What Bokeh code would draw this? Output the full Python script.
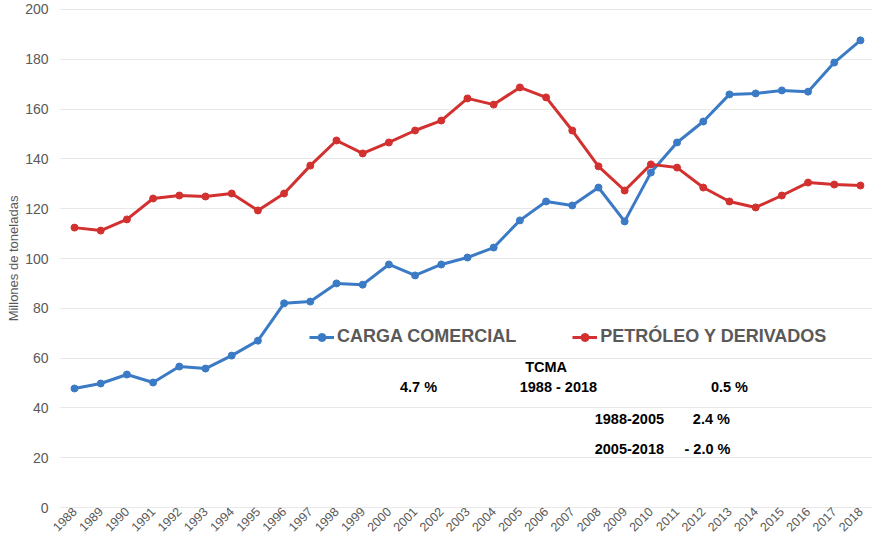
import math
from bokeh.plotting import figure
from bokeh.models import Range1d, FixedTicker, Legend, LegendItem, ColumnDataSource
from bokeh.core.properties import value
from bokeh.embed import file_html
from bokeh.resources import INLINE

years = list(range(1988, 2019))
carga_comercial = [47.8, 49.8, 53.4, 50.2, 56.6, 55.8, 61.0, 67.0, 82.0, 82.7,
                   90.0, 89.5, 97.6, 93.2, 97.6, 100.4, 104.4, 115.3, 122.9, 121.3,
                   128.5, 114.9, 134.5, 146.6, 155.0, 165.9, 166.3, 167.5, 167.0, 178.7,
                   187.6]
petroleo = [112.4, 111.2, 115.7, 124.1, 125.3, 124.9, 126.1, 119.3, 126.1, 137.3,
            147.4, 142.2, 146.6, 151.4, 155.4, 164.3, 161.8, 168.7, 164.7, 151.4,
            137.0, 127.3, 137.8, 136.5, 128.5, 122.9, 120.5, 125.3, 130.5, 129.7,
            129.3]
y_ticks = [0, 20, 40, 60, 80, 100, 120, 140, 160, 180, 200]
series_names = ["CARGA COMERCIAL", "PETRÓLEO Y DERIVADOS"]
tcma_title = "TCMA"
tcma_rows = [
    # (label, x-year, y-value)
    ("4.7 %", 2001.13, 48.5),
    ("1988 - 2018", 2006.47, 48.5),
    ("0.5 %", 2013.0, 48.5),
    ("1988-2005", 2009.18, 35.5),
    ("2.4 %", 2012.31, 35.5),
    ("2005-2018", 2009.18, 23.5),
    ("- 2.0 %", 2012.16, 23.5),
]
tcma_title_pos = (2006.0, 56.6)

BLUE = "#3b7ac4"
RED = "#d2312f"
GRAY = "#595959"

p = figure(width=874, height=542, output_backend="svg", toolbar_location=None,
           x_range=Range1d(1987.427, 2018.46), y_range=Range1d(-0.8, 200.8),
           min_border_left=59, min_border_right=2, min_border_top=7, min_border_bottom=33)
p.outline_line_color = None
p.background_fill_color = "white"
p.border_fill_color = "white"

p.xgrid.grid_line_color = None
p.ygrid.grid_line_color = "#e8e8e8"
p.ygrid.grid_line_width = 1

p.yaxis.ticker = FixedTicker(ticks=y_ticks)
p.xaxis.ticker = FixedTicker(ticks=years)
for ax in (p.xaxis, p.yaxis):
    ax.axis_line_color = None
    ax.major_tick_line_color = None
    ax.minor_tick_line_color = None
    ax.major_tick_in = 0
    ax.major_tick_out = 0
    ax.major_label_text_color = GRAY
    ax.major_label_text_font = "Liberation Sans"
p.yaxis.major_label_text_font_size = "14px"
p.yaxis.major_label_standoff = 11
p.xaxis.major_label_text_font_size = "12.5px"
p.xaxis.major_label_orientation = math.pi / 4
p.xaxis.major_label_standoff = 0
p.yaxis.axis_label = "Millones de toneladas"
p.yaxis.axis_label_text_font = "Liberation Sans"
p.yaxis.axis_label_text_font_style = "normal"
p.yaxis.axis_label_text_font_size = "13px"
p.yaxis.axis_label_text_color = GRAY
p.yaxis.axis_label_standoff = 1

src = ColumnDataSource(dict(x=years, a=carga_comercial, b=petroleo))
l1 = p.line("x", "a", source=src, line_color=BLUE, line_width=3)
c1 = p.scatter("x", "a", source=src, size=7, fill_color=BLUE, line_color=BLUE)
l2 = p.line("x", "b", source=src, line_color=RED, line_width=3)
c2 = p.scatter("x", "b", source=src, size=7, fill_color=RED, line_color=RED)

legend = Legend(items=[LegendItem(label=series_names[0], renderers=[l1, c1]),
                       LegendItem(label=series_names[1], renderers=[l2, c2])],
                orientation="horizontal", location=(250, 162),
                padding=0, spacing=56, glyph_width=25, label_standoff=3,
                border_line_color=None, background_fill_alpha=0,
                label_text_font="Liberation Sans", label_text_font_style="bold",
                label_text_font_size="18px", label_text_color=GRAY)
p.add_layout(legend, "center")

tsrc = ColumnDataSource(dict(x=[r[1] for r in tcma_rows], y=[r[2] for r in tcma_rows],
                             t=[r[0] for r in tcma_rows]))
p.text("x", "y", text="t", source=tsrc, text_font=value("Liberation Sans"),
       text_font_style="bold", text_font_size="14.5px", text_color="black",
       text_align="center", text_baseline="middle")
p.text([tcma_title_pos[0]], [tcma_title_pos[1]], text=[tcma_title],
       text_font=value("Liberation Sans"), text_font_style="bold",
       text_font_size="14.5px", text_color="black",
       text_align="center", text_baseline="middle")

open("out.html", "w").write(file_html(p, INLINE))
